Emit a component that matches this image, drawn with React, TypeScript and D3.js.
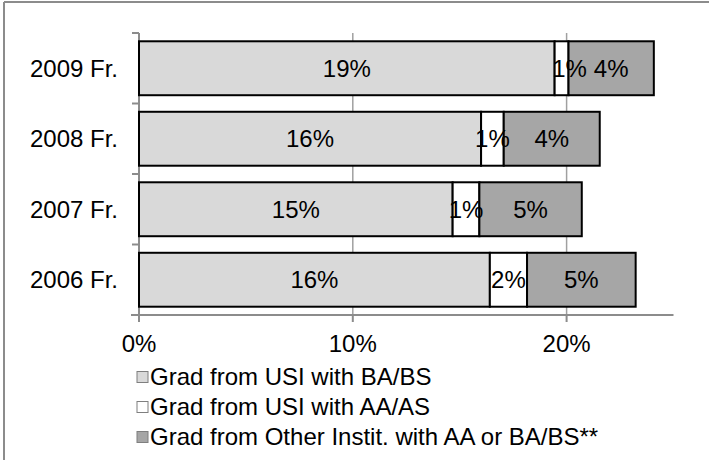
import { useMemo } from 'react';
import { scaleBand, scaleLinear, stack } from 'd3';

const categories = ['2009 Fr.', '2008 Fr.', '2007 Fr.', '2006 Fr.'];
const seriesNames = [
  'Grad from USI with BA/BS',
  'Grad from USI with AA/AS',
  'Grad from Other Instit. with AA or BA/BS**',
];
const baBs = [0.1944, 0.16, 0.1467, 0.1641];
const aaAs = [0.0065, 0.0106, 0.0125, 0.0174];
const other = [0.0399, 0.0449, 0.0479, 0.0508];
const ticks = [0, 0.1, 0.2];

const colors = ['#d9d9d9', '#ffffff', '#a6a6a6'];
const font = "'Liberation Sans', Arial, sans-serif";
const fs = 24;

const W = 709,
  H = 460;
const plot = { left: 139, right: 673.5, top: 33, bottom: 315 };

export default function App() {
  const x = useMemo(
    () => scaleLinear().domain([0, 0.25]).range([plot.left, plot.right]),
    []
  );
  const y = useMemo(
    () =>
      scaleBand<string>()
        .domain(categories)
        .range([plot.top, plot.bottom])
        .paddingInner(0.235)
        .paddingOuter(0.1175),
    []
  );
  const rows = categories.map((c, i) => ({
    cat: c,
    s0: baBs[i],
    s1: aaAs[i],
    s2: other[i],
  }));
  const stacked = stack<any>().keys(['s0', 's1', 's2'])(rows);
  const step = y.step();
  const bounds = categories.map((_, i) => plot.top + i * step).concat([plot.bottom]);

  return (
    <svg
      width={W}
      height={H}
      style={{ position: 'absolute', left: 0, top: 0, background: '#fff' }}
      fontFamily={font}
    >
      {/* frame */}
      <line x1={4} x2={4} y1={2} y2={H} stroke="#8c8c8c" strokeWidth={2} />
      <line x1={4} x2={W} y1={2} y2={2} stroke="#8c8c8c" strokeWidth={2} />

      {/* gridlines */}
      {ticks.slice(1).map((t) => (
        <line
          key={t}
          x1={x(t)}
          x2={x(t)}
          y1={plot.top}
          y2={plot.bottom}
          stroke="#a0a0a0"
          strokeWidth={1.5}
        />
      ))}

      {/* y axis */}
      <line x1={plot.left} x2={plot.left} y1={plot.top} y2={plot.bottom + 7} stroke="#8c8c8c" strokeWidth={2} />
      {bounds.map((b, i) => (
        <line key={i} x1={plot.left - 7} x2={plot.left} y1={b} y2={b} stroke="#8c8c8c" strokeWidth={2} />
      ))}

      {/* bars */}
      {stacked.map((layer, li) =>
        layer.map((d, i) => (
          <rect
            key={li + '-' + i}
            x={x(d[0])}
            y={y(categories[i])}
            width={x(d[1]) - x(d[0])}
            height={y.bandwidth()}
            fill={colors[li]}
            stroke="#000"
            strokeWidth={2}
          />
        ))
      )}
      {stacked.map((layer, li) =>
        layer.map((d, i) => (
          <text
            key={'t' + li + '-' + i}
            x={(x(d[0]) + x(d[1])) / 2 + (li === 1 && i === 0 ? 8 : 0)}
            y={(y(categories[i]) as number) + y.bandwidth() / 2}
            dy="0.35em"
            textAnchor="middle"
            fontSize={fs}
            fill="#000"
          >
            {Math.round((d[1] - d[0]) * 100) + '%'}
          </text>
        ))
      )}

      {/* x axis */}
      <line x1={plot.left - 8} x2={plot.right} y1={plot.bottom} y2={plot.bottom} stroke="#8c8c8c" strokeWidth={2} />
      {ticks.map((t) => (
        <g key={t}>
          <line x1={x(t)} x2={x(t)} y1={plot.bottom} y2={plot.bottom + 7} stroke="#8c8c8c" strokeWidth={2} />
          <text x={x(t)} y={352} textAnchor="middle" fontSize={fs}>
            {Math.round(t * 100) + '%'}
          </text>
        </g>
      ))}

      {/* category labels */}
      {categories.map((c) => (
        <text
          key={c}
          x={118}
          y={(y(c) as number) + y.bandwidth() / 2}
          dy="0.35em"
          textAnchor="end"
          fontSize={fs}
        >
          {c}
        </text>
      ))}

      {/* legend */}
      {seriesNames.map((n, i) => (
        <g key={n} transform={`translate(137, ${377 + i * 30})`}>
          <rect x={0} y={-5.5} width={11} height={11} fill={colors[i]} stroke="#7f7f7f" strokeWidth={1} />
          <text x={13} y={0} dy="0.35em" fontSize={fs}>
            {n}
          </text>
        </g>
      ))}
    </svg>
  );
}
